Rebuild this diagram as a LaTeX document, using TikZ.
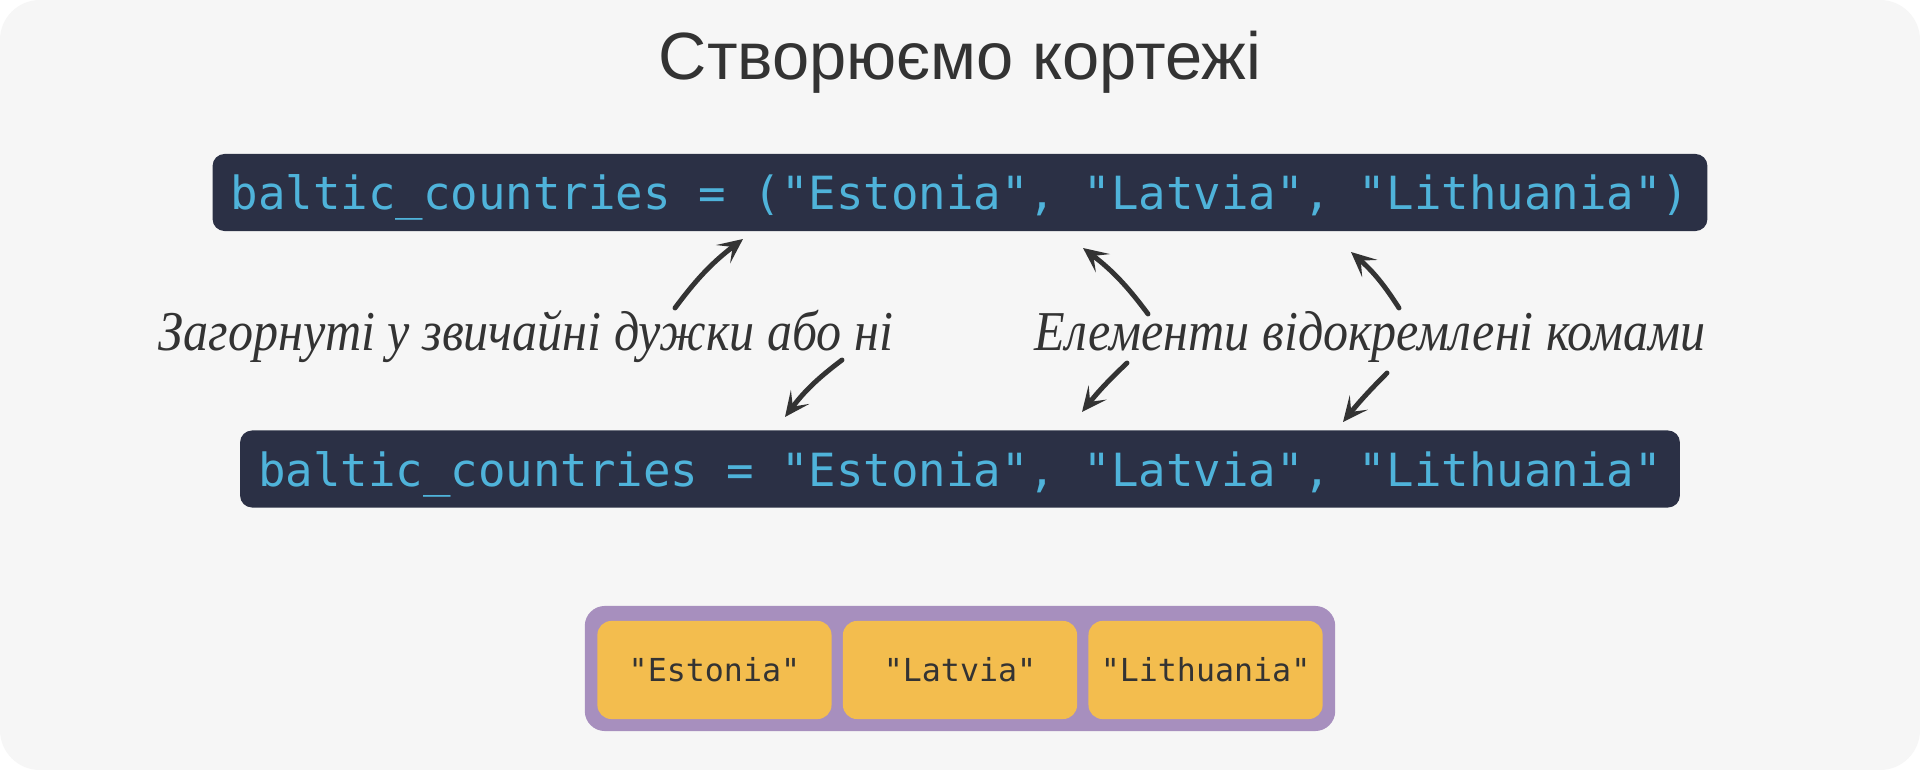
\documentclass[tikz,border=0pt]{standalone}
\usepackage{fontspec}
\setmainfont{Liberation Sans}
\newfontfamily\codefont{DejaVu Sans Mono}
\newfontfamily\handfont{Liberation Serif}
\usetikzlibrary{arrows.meta,positioning}
\definecolor{pagegray}{RGB}{246,246,246}
\definecolor{inkgray}{RGB}{51,51,51}
\definecolor{codebg}{RGB}{43,48,69}
\definecolor{codecyan}{RGB}{79,179,218}
\definecolor{tuplepurple}{RGB}{167,143,190}
\definecolor{itemyellow}{RGB}{243,189,78}
\tikzset{
  codebox/.style={fill=codebg,text=codecyan,rounded corners=0.12cm,
    minimum height=0.77cm,inner sep=0pt,text depth=0pt,
    font=\codefont\fontsize{13}{15}\selectfont},
  itemcell/.style={fill=itemyellow,text=inkgray,rounded corners=0.14cm,
    minimum width=2.34cm,minimum height=0.98cm,inner sep=0pt,
    font=\codefont\fontsize{9}{11}\selectfont},
  note/.style={text=inkgray,anchor=base,inner sep=0pt,xscale=0.89,
    font=\handfont\itshape\fontsize{16}{18}\selectfont},
  brush/.style={inkgray,line width=1.4pt,line cap=round,
    -{Stealth[length=2.5mm,width=2.3mm,inset=1.2mm]}}
}
\begin{document}
\begin{tikzpicture}[x=0.01cm,y=-0.01cm]
  % page
  \fill[white] (0,0) rectangle (1920,770);
  \fill[pagegray,rounded corners=0.4cm] (0,0) rectangle (1920,770);

  % title
  \node[font=\fontsize{19}{23}\selectfont,text=inkgray,anchor=base] (title)
    at (960,80) {Створюємо кортежі};

  % the two ways to write it
  \node[codebox,minimum width=14.94cm] (codeTuple) at (960,192.5)
    {baltic\_countries = ("Estonia", "Latvia", "Lithuania")};
  \node[codebox,minimum width=14.39cm] (codePlain) at (960,469)
    {baltic\_countries = "Estonia", "Latvia", "Lithuania"};

  % handwritten notes
  \node[note] (noteParen) at (526,351) {Загорнуті у звичайні дужки або ні};
  \node[note] (noteComma) at (1370,351) {Елементи відокремлені комами};

  % arrow ends
  \coordinate (parenTail) at (675,308);
  \coordinate (parenHead) at (743,239);
  \coordinate (plainTail) at (842,360);
  \coordinate (plainHead) at (785,417);
  \coordinate (commaOneTail) at (1148,314);
  \coordinate (commaOneHead) at (1083,248);
  \coordinate (commaTwoTail) at (1399,308);
  \coordinate (commaTwoHead) at (1351,252);
  \coordinate (commaThreeTail) at (1127,363);
  \coordinate (commaThreeHead) at (1082,412);
  \coordinate (commaFourTail) at (1387,373);
  \coordinate (commaFourHead) at (1343,422);

  \draw[brush] (parenTail) to[bend left=8] (parenHead);
  \draw[brush] (plainTail) to[bend right=8] (plainHead);
  \draw[brush] (commaOneTail) to[bend right=8] (commaOneHead);
  \draw[brush] (commaTwoTail) to[bend right=8] (commaTwoHead);
  \draw[brush] (commaThreeTail) to[bend right=4] (commaThreeHead);
  \draw[brush] (commaFourTail) to[bend right=3] (commaFourHead);

  % the tuple itself
  \node[fill=tuplepurple,rounded corners=0.2cm,minimum width=7.5cm,
    minimum height=1.25cm,inner sep=0pt] (tupleBox) at (960,668.5) {};
  \node[itemcell] (cellLat) at (960,670) {"Latvia"};
  \node[itemcell,left=0.1cm of cellLat] (cellEst) {"Estonia"};
  \node[itemcell,right=0.1cm of cellLat] (cellLit) {"Lithuania"};
\end{tikzpicture}
\end{document}
